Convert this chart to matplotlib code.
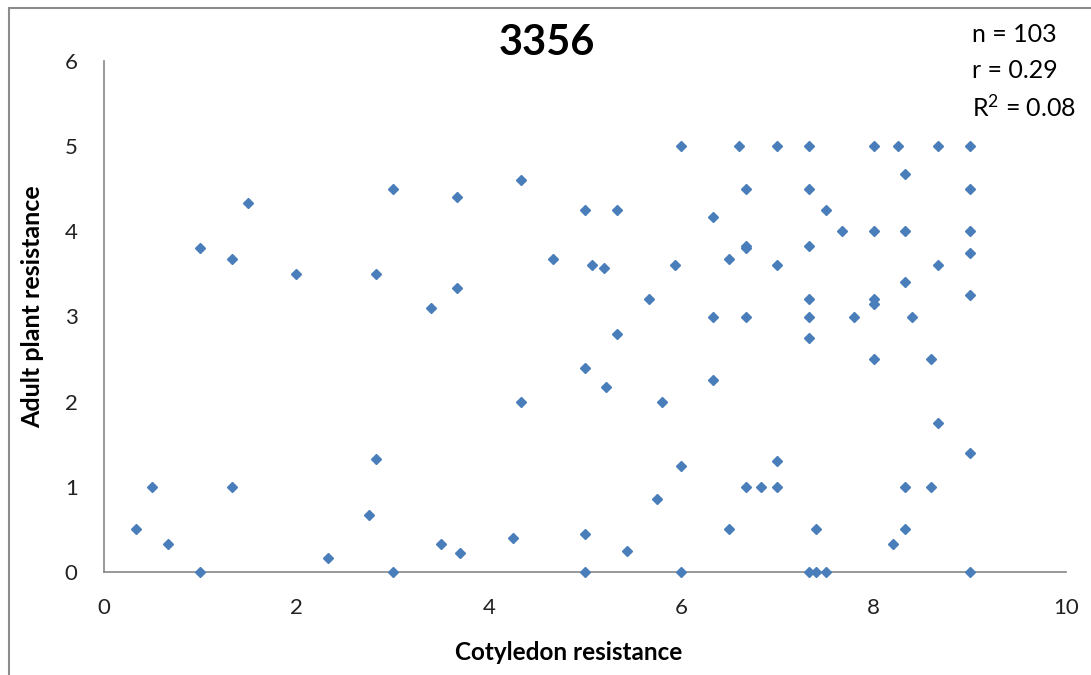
import matplotlib
matplotlib.use('Agg')
import matplotlib.pyplot as plt
from matplotlib.patches import Rectangle

# Resistencia de cotiledon vs planta adulta (linea 3356)

cotiledon = [0.33, 0.5, 0.67, 1.0, 1.0, 1.33, 1.33, 1.5, 2.0, 2.33,
             2.75, 2.83, 2.83, 3.0, 3.0, 3.4, 3.5, 3.67, 3.67, 3.7,
             4.25, 4.33, 4.33, 4.67, 5.0, 5.0, 5.0, 5.0, 5.07, 5.2,
             5.22, 5.33, 5.33, 5.44, 5.67, 5.75, 5.8, 5.94, 6.0, 6.0,
             6.0, 6.33, 6.33, 6.33, 6.5, 6.5, 6.6, 6.67, 6.67, 6.67,
             6.67, 6.67, 6.83, 7.0, 7.0, 7.0, 7.0, 7.33, 7.33, 7.33,
             7.33, 7.33, 7.33, 7.33, 7.4, 7.4, 7.5, 7.5, 7.67, 7.8,
             8.0, 8.0, 8.0, 8.0, 8.0, 8.2, 8.25, 8.33, 8.33, 8.33,
             8.33, 8.33, 8.4, 8.6, 8.6, 8.67, 8.67, 8.67, 9.0, 9.0,
             9.0, 9.0, 9.0, 9.0, 9.0]

adulta = [0.5, 1.0, 0.33, 3.8, 0.0, 3.67, 1.0, 4.33, 3.5, 0.17,
          0.67, 3.5, 1.33, 4.5, 0.0, 3.1, 0.33, 4.4, 3.33, 0.22,
          0.4, 4.6, 2.0, 3.67, 4.25, 2.4, 0.45, 0.0, 3.6, 3.57,
          2.17, 4.25, 2.8, 0.25, 3.2, 0.86, 2.0, 3.6, 5.0, 1.25,
          0.0, 4.17, 3.0, 2.25, 3.67, 0.5, 5.0, 4.5, 3.83, 3.8,
          3.0, 1.0, 1.0, 5.0, 3.6, 1.3, 1.0, 5.0, 4.5, 3.83,
          3.2, 3.0, 2.75, 0.0, 0.5, 0.0, 4.25, 0.0, 4.0, 3.0,
          5.0, 4.0, 3.2, 3.15, 2.5, 0.33, 5.0, 4.67, 4.0, 3.4,
          1.0, 0.5, 3.0, 2.5, 1.0, 5.0, 3.6, 1.75, 5.0, 4.5,
          4.0, 3.75, 3.25, 1.4, 0.0]

titulo = '3356'
estadisticas = ['n = 103', 'r = 0.29', 'R$^2$ = 0.08']

plt.rcParams['font.family'] = ['Lato', 'DejaVu Sans']
plt.rcParams['mathtext.default'] = 'regular'

fig = plt.figure(figsize = (10.91, 6.75), dpi = 100)

# Borde del area del grafico
fig.patches.append(Rectangle((9 / 1091, -0.05), 1.1, 1.05 - 8 / 675,
                             transform = fig.transFigure, fill = False,
                             edgecolor = '#8c8c8c', linewidth = 1.5))

ax = fig.add_axes([104 / 1091, 1 - 572 / 675, (1066 - 104) / 1091, (572 - 61) / 675])

ax.plot(cotiledon, adulta, linestyle = 'none', marker = 'D', markersize = 5.6,
        color = '#4a7ebb', clip_on = False, zorder = 3)

ax.set_xlim(0, 10)
ax.set_ylim(0, 6)
ax.set_xticks(range(0, 11, 2))
ax.set_yticks(range(0, 7))

for lado in ['top', 'right']:
    ax.spines[lado].set_visible(False)
for lado in ['left', 'bottom']:
    ax.spines[lado].set_color('#868686')
    ax.spines[lado].set_linewidth(1.2)

ax.tick_params(axis = 'both', length = 0, labelsize = 16, colors = '#222222')
ax.tick_params(axis = 'x', pad = 19)
ax.tick_params(axis = 'y', pad = 19)

fig.text(547 / 1091, 1 - 43 / 675, titulo, ha = 'center', va = 'center',
         fontsize = 30, fontweight = 'bold')
fig.text(569 / 1091, 1 - 652 / 675, 'Cotyledon resistance', ha = 'center', va = 'center',
         fontsize = 17.5, fontweight = 'bold')
fig.text(33 / 1091, 1 - 307 / 675, 'Adult plant resistance', ha = 'center', va = 'center',
         rotation = 90, fontsize = 18, fontweight = 'bold')

for i, linea in enumerate(estadisticas):
    fig.text(972 / 1091, 1 - (35 + 36 * i) / 675, linea, ha = 'left', va = 'center',
             fontsize = 18)

fig.savefig('out.png', dpi = 100)
